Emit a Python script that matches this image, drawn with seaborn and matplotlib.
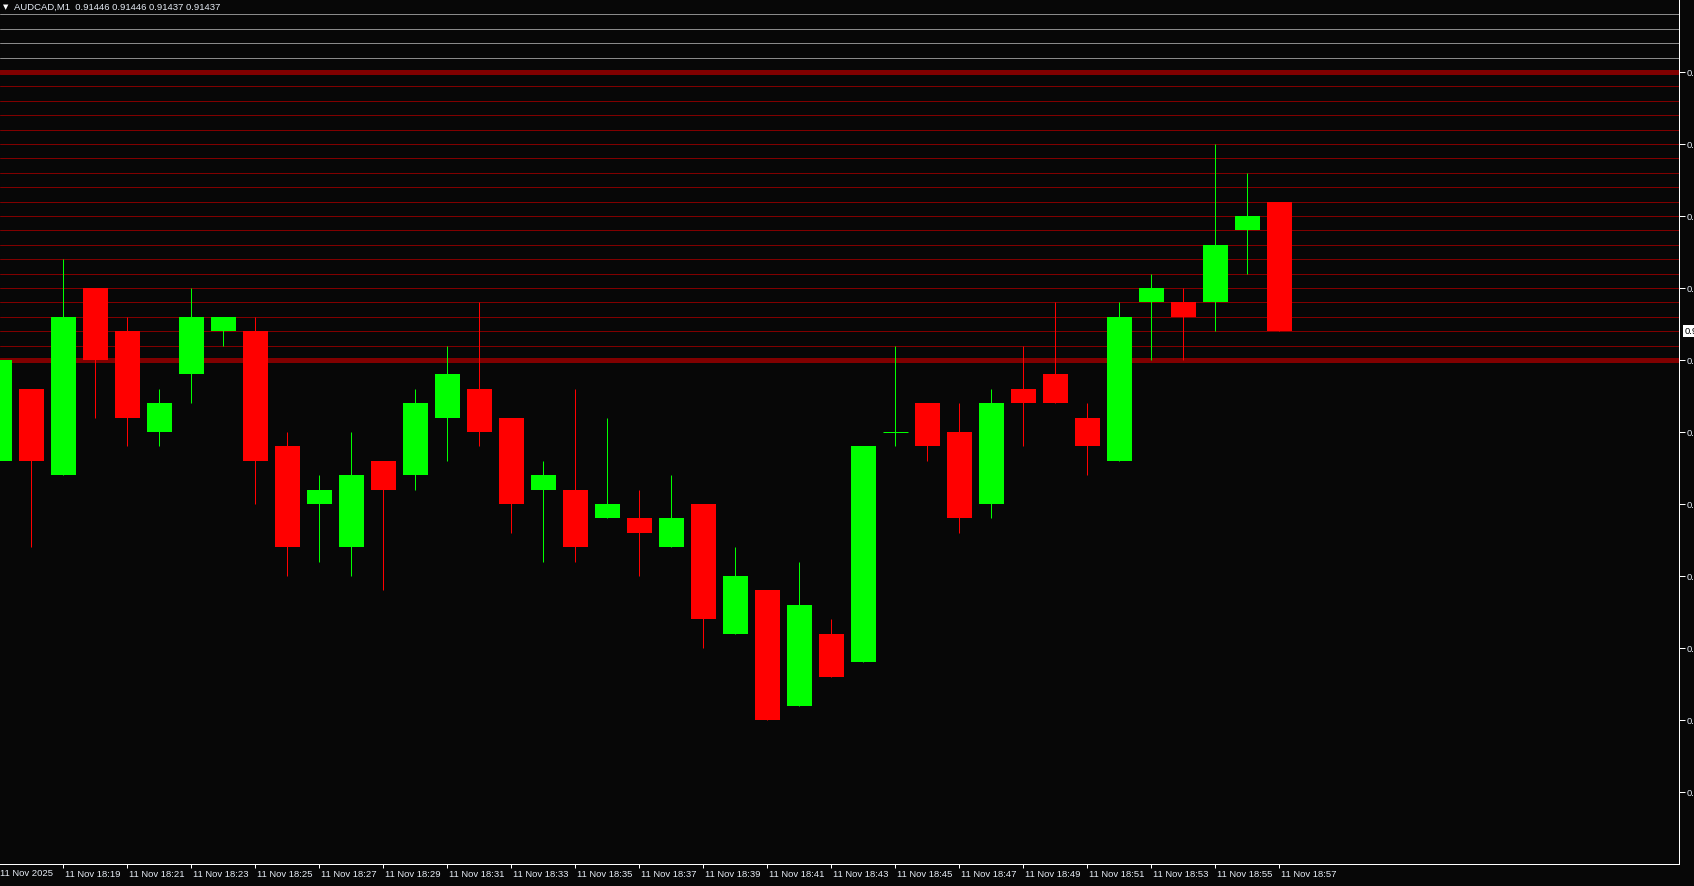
import matplotlib

matplotlib.use("Agg")
import matplotlib.pyplot as plt
import matplotlib.transforms as mtransforms
from matplotlib.lines import Line2D
import numpy as np
import pandas as pd
import seaborn as sns

SYMBOL = "AUDCAD,M1"
LAST_BAR = [0.91446, 0.91446, 0.91437, 0.91437]

minutes = [f"18:{m:02d}" for m in range(17, 58)]
opens = [28, 33, 27, 40, 37, 30, 34, 37, 37, 29, 25, 22, 28, 27, 31, 33, 31, 26, 26, 24, 24,
         22, 25, 16, 19, 11, 16, 14, 30, 32, 30, 25, 33, 34, 31, 28, 39, 39, 39, 44, 46]
highs = [35, 33, 42, 40, 38, 33, 40, 38, 38, 30, 27, 30, 28, 33, 36, 39, 31, 28, 33, 31, 26,
         27, 25, 22, 19, 21, 17, 29, 36, 32, 32, 33, 36, 39, 32, 39, 41, 40, 50, 48, 46]
lows = [28, 22, 27, 31, 29, 29, 32, 36, 25, 20, 21, 20, 19, 26, 28, 29, 23, 21, 21, 24, 20,
        22, 15, 16, 10, 11, 13, 14, 29, 28, 23, 24, 29, 32, 27, 28, 35, 35, 37, 41, 37]
closes = [35, 28, 38, 35, 31, 32, 38, 38, 28, 22, 26, 27, 26, 32, 34, 30, 25, 27, 22, 25, 23,
          24, 17, 20, 10, 18, 13, 29, 30, 29, 24, 32, 32, 32, 29, 38, 40, 38, 43, 45, 37]

# horizontal levels drawn on the chart (in points above 0.91400)
red_levels = list(range(35, 56))
thick_levels = [35, 55]
grey_levels = [56, 57, 58, 59]

BASE = 0.91400
PT = 0.00001

BG = "#070707"
UP = "#00ff00"
DOWN = "#ff0000"
LEVEL_RED = "#800000"
LEVEL_GREY = "#8a8a8a"
TXT = "#e6ecf5"


def main():
    sns.set_theme(style="dark", rc={
        "figure.facecolor": BG,
        "axes.facecolor": BG,
        "axes.edgecolor": "white",
        "axes.grid": False,
    })
    plt.rcParams["font.family"] = ["Liberation Sans", "DejaVu Sans"]

    df = pd.DataFrame({
        "time": minutes,
        "open": BASE + np.array(opens) * PT,
        "high": BASE + np.array(highs) * PT,
        "low": BASE + np.array(lows) * PT,
        "close": BASE + np.array(closes) * PT,
    })
    df["x"] = np.arange(len(df))
    df["color"] = np.where(df["close"] >= df["open"], UP, DOWN)

    W, H = 1694, 886
    fig = plt.figure(figsize=(W / 100, H / 100), dpi=100)
    ax = fig.add_axes([0, 22 / H, 1679 / W, 864 / H])
    ax.set_facecolor(BG)

    px = 1 * 72 / 100  # one pixel in points

    for lv in grey_levels:
        ax.axhline(BASE + lv * PT, color=LEVEL_GREY, lw=px, zorder=1)
    for lv in red_levels:
        lw = 5 * px if lv in thick_levels else px
        ax.axhline(BASE + lv * PT, color=LEVEL_RED, lw=lw, zorder=1)

    ax.vlines(df["x"], df["low"], df["high"], colors=df["color"], lw=px, zorder=3)
    body = df[df["open"] != df["close"]]
    ax.bar(body["x"], (body["close"] - body["open"]).abs(),
           bottom=body[["open", "close"]].min(axis=1), width=0.78,
           color=body["color"], linewidth=0, zorder=4)
    doji = df[df["open"] == df["close"]]
    ax.hlines(doji["open"], doji["x"] - 0.39, doji["x"] + 0.39, colors=doji["color"], lw=px, zorder=4)

    ax.set_xlim(0.022, 52.49)
    ax.set_ylim(BASE, BASE + 60 * PT)

    for s in ["left", "top"]:
        ax.spines[s].set_visible(False)
    for s in ["right", "bottom"]:
        ax.spines[s].set_color("white")
        ax.spines[s].set_linewidth(px)

    # price scale runs off the right edge of the window, as in the terminal
    ax.yaxis.tick_right()
    yt = BASE + np.arange(5, 60, 5) * PT
    ax.set_yticks(yt)
    ax.set_yticklabels([f"{v:.5f}" for v in yt])
    ax.tick_params(axis="y", colors="white", labelcolor=TXT, length=4, width=px,
                   direction="out", pad=1.5, labelsize=6.8, right=True, left=False)

    xt = df["x"][2::2]
    ax.set_xticks(xt)
    ax.set_xticklabels([f"11 Nov {t}" for t in df["time"][2::2]])
    ax.tick_params(axis="x", colors="white", labelcolor=TXT, length=3, width=px,
                   direction="out", pad=1.5, labelsize=6.8, bottom=True)
    shift = mtransforms.ScaledTranslation(2 / 100, 0, fig.dpi_scale_trans)
    for lab in ax.get_xticklabels():
        lab.set_horizontalalignment("left")
        lab.set_transform(lab.get_transform() + shift)
    ax.text(0, -5.5 / 864, "11 Nov 2025", transform=ax.transAxes, ha="left", va="top",
            fontsize=6.8, color=TXT, clip_on=False)

    # current price tag
    ax.annotate(f"{LAST_BAR[3]:.5f}", xy=(1, LAST_BAR[3]),
                xycoords=ax.get_yaxis_transform(), xytext=(4, 0), textcoords="offset points",
                ha="left", va="center", fontsize=6.8, color="black",
                bbox=dict(boxstyle="square,pad=0.15", fc="white", ec="none"),
                annotation_clip=False)

    title = f"{SYMBOL}  " + " ".join(f"{v:.5f}" for v in LAST_BAR)
    fig.text(14 / W, 1 - 7 / H, title, ha="left", va="center", fontsize=6.8, color=TXT)
    fig.text(3 / W, 1 - 7 / H, "\u25bc", ha="left", va="center", fontsize=5,
             color="white", family=["DejaVu Sans"])

    fig.add_artist(Line2D([0, 1], [0.5 / H, 0.5 / H], transform=fig.transFigure,
                          color="#c8c8c8", lw=px))

    fig.savefig("out.png", dpi=100, facecolor=BG)
    plt.close(fig)


if __name__ == "__main__":
    main()
